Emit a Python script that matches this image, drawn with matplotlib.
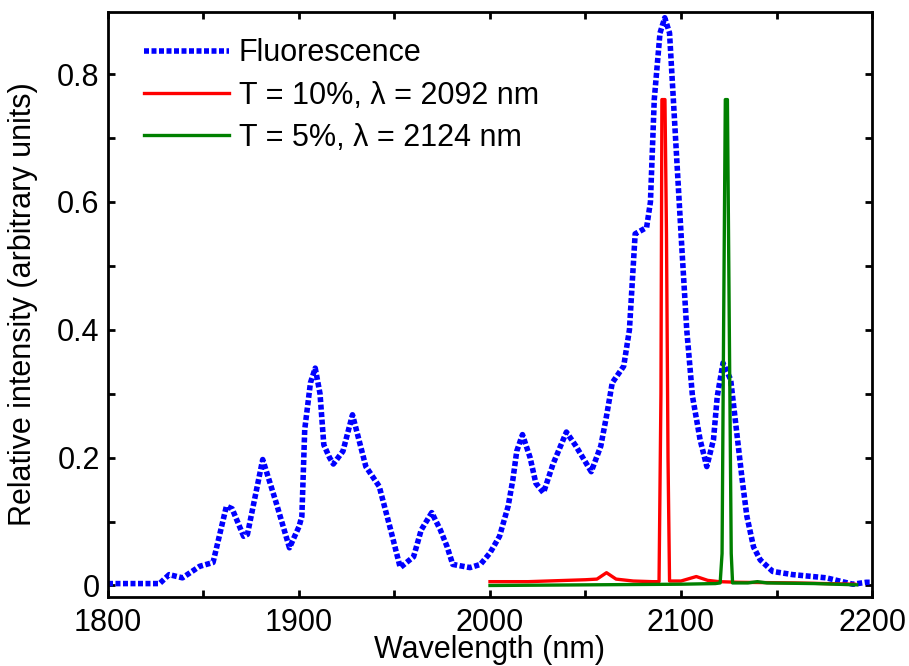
import numpy as np
import matplotlib.pyplot as plt

plt.rcParams['font.family'] = ['Liberation Sans', 'DejaVu Sans']
plt.rcParams['font.size'] = 22

# fluorescence spectrum
fl_x = [1800, 1827, 1832, 1839, 1848, 1855, 1862, 1865, 1871, 1873, 1881, 1888,
        1895, 1900, 1901.5, 1903, 1906, 1908.5, 1911, 1913, 1916, 1918, 1923,
        1928, 1935, 1942, 1948, 1953, 1960, 1964, 1969.5, 1974, 1977.5, 1980.5,
        1989.5, 1995, 2000, 2005, 2009.5, 2012, 2014, 2017, 2021, 2024, 2028,
        2033, 2040, 2045, 2053, 2058, 2061, 2064, 2070, 2073, 2076, 2082, 2084,
        2086, 2089, 2091.5, 2094, 2096, 2098, 2100.5, 2103, 2106, 2110, 2113.5,
        2117, 2119, 2122, 2126, 2129, 2132, 2134.5, 2138, 2141.5, 2148, 2158.5,
        2176, 2190, 2197, 2200]
fl_y = [0.003, 0.003, 0.017, 0.012, 0.030, 0.036, 0.124, 0.120, 0.077, 0.080,
        0.197, 0.130, 0.059, 0.092, 0.108, 0.244, 0.317, 0.340, 0.300, 0.220,
        0.200, 0.190, 0.210, 0.267, 0.186, 0.155, 0.087, 0.028, 0.045, 0.087,
        0.114, 0.087, 0.061, 0.033, 0.028, 0.033, 0.051, 0.077, 0.124, 0.166,
        0.210, 0.236, 0.200, 0.160, 0.145, 0.190, 0.240, 0.218, 0.178, 0.218,
        0.265, 0.317, 0.343, 0.400, 0.550, 0.560, 0.600, 0.760, 0.864, 0.888,
        0.864, 0.760, 0.655, 0.525, 0.400, 0.296, 0.228, 0.186, 0.228, 0.296,
        0.348, 0.322, 0.244, 0.166, 0.108, 0.060, 0.040, 0.022, 0.017, 0.012,
        0.002, 0.005, 0.005]

# laser output, T = 10 %
r_x = [2000, 2020, 2040, 2050, 2056, 2061, 2066, 2075, 2085, 2088.5, 2089.5,
       2090.0, 2091.6, 2092.4, 2093.2, 2094, 2100, 2108, 2114, 2120, 2130, 2160, 2191]
r_y = [0.006, 0.006, 0.008, 0.009, 0.010, 0.020, 0.010, 0.007, 0.006, 0.006,
       0.30, 0.76, 0.76, 0.55, 0.20, 0.007, 0.007, 0.014, 0.008, 0.006, 0.005,
       0.004, 0.002]

# laser output, T = 5 %
g_x = [2000, 2050, 2100, 2118, 2120.5, 2121.5, 2122.3, 2123.2, 2124.3, 2125.3,
       2126.3, 2127, 2135, 2140, 2145, 2170, 2192]
g_y = [0.000, 0.001, 0.002, 0.003, 0.004, 0.05, 0.40, 0.76, 0.76, 0.40, 0.05,
       0.004, 0.004, 0.006, 0.004, 0.003, 0.001]

fig = plt.figure(figsize=(9.09, 6.66), dpi=100)
ax = fig.add_axes([0.1188, 0.1036, 0.8405, 0.8784])

ax.plot(fl_x, fl_y, color=(0, 0, 1), lw=4, dashes=(0.9, 0.45),
        dash_capstyle='butt', label='Fluorescence', zorder=2)
ax.plot(r_x, r_y, color=(1, 0, 0), lw=2.4, label='T = 10%, λ = 2092 nm', zorder=3)
ax.plot(g_x, g_y, color=(0, 0.5, 0), lw=2.4, label='T = 5%, λ = 2124 nm', zorder=4)

ax.set_xlim(1800, 2200)
ax.set_ylim(-0.018, 0.897)
ax.set_xticks([1800, 1900, 2000, 2100, 2200])
ax.set_xticks(np.arange(1850, 2200, 100), minor=True)
ax.set_yticks([0, 0.2, 0.4, 0.6, 0.8])
ax.set_yticklabels(['0', '0.2', '0.4', '0.6', '0.8'])
ax.set_yticks([0.1, 0.3, 0.5, 0.7], minor=True)
ax.tick_params(which='both', direction='in', top=True, right=True,
               length=5, width=2)
ax.tick_params(axis='x', pad=8)
ax.tick_params(axis='y', pad=6)
for s in ax.spines.values():
    s.set_linewidth(2)

ax.set_xlabel('Wavelength (nm)', labelpad=-2)
ax.set_ylabel('Relative intensity (arbitrary units)', labelpad=14)

ax.legend(loc='upper left', bbox_to_anchor=(0.047, 0.955), frameon=False,
          borderpad=0, borderaxespad=0, handlelength=2.8, handletextpad=0.3,
          labelspacing=0.4)

fig.savefig('out.png', dpi=100)
